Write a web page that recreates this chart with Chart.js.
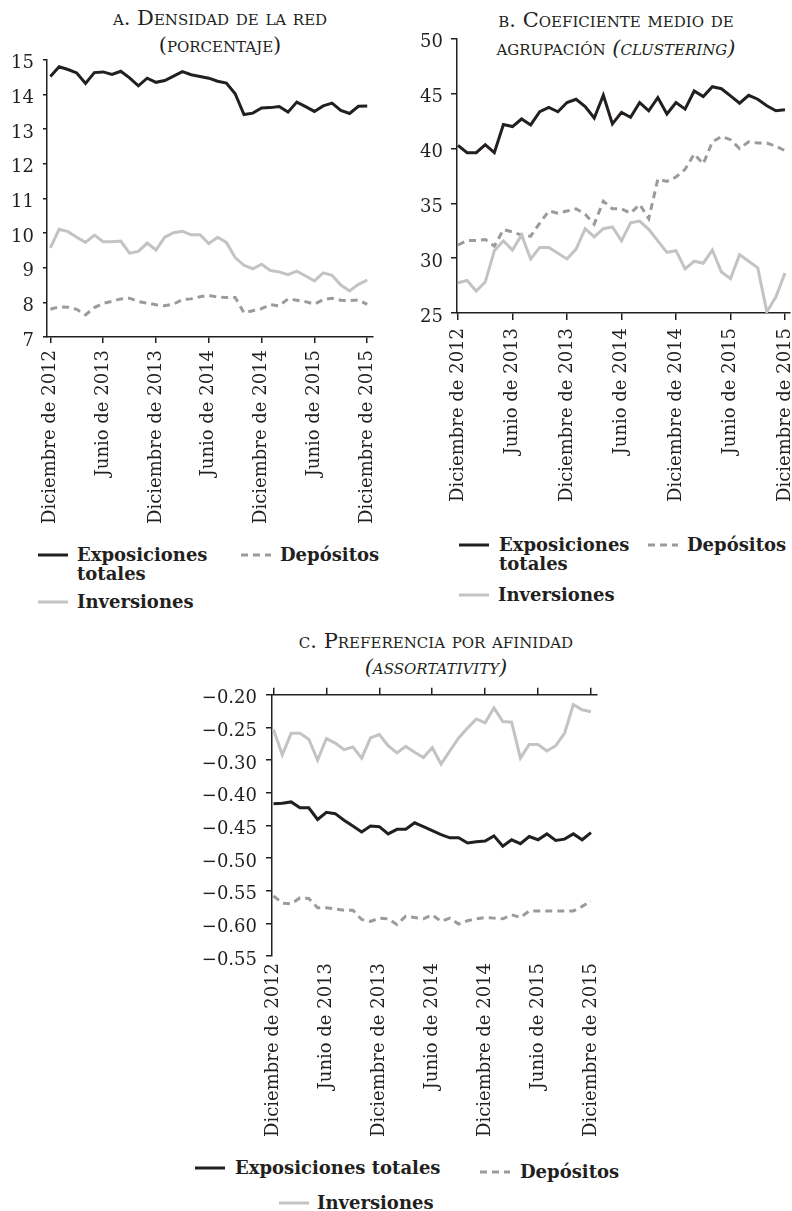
<!DOCTYPE html>
<html lang="es">
<head>
<meta charset="utf-8">
<title>Densidad, agrupación y preferencia por afinidad</title>
<script src="https://cdn.jsdelivr.net/npm/chart.js@4.4.1/dist/chart.umd.min.js"></script>
<style>
  html, body { margin: 0; padding: 0; background: #fff; }
  body {
    width: 792px; height: 1211px; position: relative; overflow: hidden;
    font-family: 'DejaVu Serif', serif; color: #231f20;
  }
  canvas { position: absolute; }
  .title {
    position: absolute; text-align: center; white-space: nowrap;
    font-variant: small-caps; font-size: 21px;
  }
  .title i { font-style: italic; }
  .leg {
    position: absolute; font-weight: bold; font-size: 18px; line-height: 19px; white-space: nowrap;
  }
  .sw { position: absolute; line-height: 0; }
  .sw svg { display: block; }
</style>
</head>
<body>

<div class="title" style="left:60px; width:320px; top:5px; line-height:27px;">a. Densidad de la red<br>(porcentaje)</div>
<div class="title" style="left:456px; width:320px; top:6px; line-height:28px;">b. Coeficiente medio de<br>agrupación <i>(clustering)</i></div>
<div class="title" style="left:276px; width:320px; top:628px; line-height:26px;">c. Preferencia por afinidad<br><i>(assortativity)</i></div>

<canvas id="chartA" width="396" height="500" style="left:0px; top:40px;"></canvas>
<canvas id="chartB" width="420" height="510" style="left:396px; top:20px;"></canvas>
<canvas id="chartC" width="440" height="480" style="left:180px; top:675px;"></canvas>

<script>
// meses: diciembre de 2012 a diciembre de 2015
const months = ['Enero', 'Febrero', 'Marzo', 'Abril', 'Mayo', 'Junio', 'Julio',
  'Agosto', 'Septiembre', 'Octubre', 'Noviembre', 'Diciembre'];
const categories = ['Diciembre de 2012'];
for (let y = 2013; y <= 2015; y++) months.forEach(m => categories.push(m + ' de ' + y));
const tickIdx = [0, 6, 12, 18, 24, 30, 36];

// A. Densidad de la red (porcentaje)
const densidadExposiciones = [14.52, 14.8, 14.72, 14.62, 14.32, 14.63, 14.65, 14.58, 14.67, 14.48,
  14.25, 14.47, 14.35, 14.4, 14.53, 14.66, 14.57, 14.52, 14.47, 14.38, 14.33, 14.02, 13.42, 13.46,
  13.61, 13.62, 13.65, 13.49, 13.78, 13.65, 13.51, 13.67, 13.75, 13.54, 13.45, 13.66, 13.67];
const densidadDepositos = [7.8, 7.87, 7.86, 7.8, 7.64, 7.85, 7.97, 8.03, 8.1, 8.12, 8.02, 7.98,
  7.93, 7.9, 7.95, 8.08, 8.1, 8.16, 8.2, 8.15, 8.14, 8.14, 7.7, 7.76, 7.82, 7.93, 7.9, 8.1, 8.06,
  8.02, 7.95, 8.08, 8.12, 8.06, 8.05, 8.07, 7.94];
const densidadInversiones = [9.57, 10.11, 10.04, 9.88, 9.73, 9.94, 9.75, 9.75, 9.77, 9.42, 9.47,
  9.71, 9.51, 9.88, 10.01, 10.05, 9.95, 9.95, 9.7, 9.88, 9.73, 9.29, 9.07, 8.97, 9.1, 8.92, 8.88,
  8.8, 8.9, 8.76, 8.62, 8.85, 8.78, 8.5, 8.33, 8.52, 8.64];

// B. Coeficiente medio de agrupación
const clusterExposiciones = [40.29, 39.62, 39.62, 40.35, 39.62, 42.18, 42.0, 42.69, 42.15, 43.35,
  43.74, 43.35, 44.19, 44.49, 43.83, 42.78, 44.85, 42.24, 43.29, 42.84, 44.19, 43.44, 44.64, 43.14,
  44.19, 43.59, 45.24, 44.73, 45.63, 45.45, 44.79, 44.13, 44.85, 44.49, 43.89, 43.44, 43.53];
const clusterDepositos = [31.2, 31.6, 31.6, 31.7, 31.1, 32.6, 32.4, 32.1, 32.0, 33.2, 34.3, 34.1,
  34.3, 34.5, 34.0, 33.1, 35.2, 34.5, 34.5, 34.1, 34.9, 33.6, 37.2, 37.0, 37.4, 38.1, 39.5, 38.6,
  40.6, 41.1, 40.8, 40.0, 40.6, 40.5, 40.5, 40.2, 39.8];
const clusterInversiones = [27.76, 27.97, 27.0, 27.82, 30.68, 31.58, 30.74, 32.12, 29.93, 30.98,
  30.98, 30.44, 29.93, 30.83, 32.69, 31.94, 32.69, 32.84, 31.58, 33.23, 33.38, 32.63, 31.58, 30.53,
  30.68, 29.03, 29.72, 29.54, 30.74, 28.73, 28.13, 30.32, 29.72, 29.12, 25.1, 26.47, 28.64];

const assortExposiciones = [-0.417, -0.416, -0.414, -0.423, -0.423, -0.441, -0.430, -0.432,
  -0.442, -0.451, -0.460, -0.451, -0.452, -0.463, -0.456, -0.456, -0.446, -0.452, -0.458, -0.464,
  -0.469, -0.469, -0.477, -0.475, -0.474, -0.466, -0.482, -0.472, -0.478, -0.467, -0.472, -0.463,
  -0.473, -0.471, -0.463, -0.472, -0.461];
const assortDepositos = [-0.558, -0.569, -0.570, -0.561, -0.562, -0.576, -0.576, -0.578, -0.580,
  -0.580, -0.594, -0.597, -0.592, -0.593, -0.602, -0.589, -0.591, -0.593, -0.587, -0.597, -0.592,
  -0.601, -0.596, -0.593, -0.591, -0.592, -0.593, -0.587, -0.591, -0.581, -0.581, -0.581, -0.581,
  -0.581, -0.581, -0.574, -0.566];
const assortInversiones = [-0.253, -0.292, -0.259, -0.259, -0.268, -0.300, -0.267, -0.274,
  -0.284, -0.280, -0.297, -0.266, -0.261, -0.278, -0.289, -0.279, -0.288, -0.296, -0.281, -0.306,
  -0.286, -0.266, -0.251, -0.237, -0.243, -0.220, -0.241, -0.242, -0.297, -0.276, -0.276, -0.286,
  -0.278, -0.259, -0.215, -0.223, -0.226];
// the printed axis skips from -0.30 to -0.40, so the lower block sits one step higher
const yTickPosC = [-0.60, -0.55, -0.50, -0.45, -0.40, -0.35, -0.30, -0.25, -0.20];
const yTickLabelsC = ['\u22120.55', '\u22120.60', '\u22120.55', '\u22120.50', '\u22120.45',
  '\u22120.40', '\u22120.30', '\u22120.25', '\u22120.20'];
const toAxisC = v => (v <= -0.35 ? v + 0.05 : v);

const INK = '#231f20';
const FONT = { family: "'DejaVu Serif', serif", size: 18 };
const style = {
  exp: { borderColor: '#231f20', borderWidth: 3 },
  dep: { borderColor: '#9b9b9b', borderWidth: 3, borderDash: [7, 5] },
  inv: { borderColor: '#c3c3c3', borderWidth: 3 }
};
const pts = arr => arr.map((v, i) => ({ x: i, y: v }));

function ds(label, arr, s) {
  return Object.assign({ label, data: pts(arr), pointRadius: 0, tension: 0, fill: false }, s);
}

function xAxis(o) {
  return {
    type: 'linear', position: o.position || 'bottom', min: o.min, max: o.max,
    afterBuildTicks: s => { s.ticks = tickIdx.map(v => ({ value: v })); },
    afterFit: s => { s.height = o.height; },
    border: { display: o.line !== false, color: INK, width: 1.5 },
    grid: { display: o.tickLength > 0, drawOnChartArea: false, drawTicks: o.tickLength > 0,
      tickLength: o.tickLength, color: INK, lineWidth: 1.5 },
    ticks: { display: o.labels !== false, color: INK, font: FONT, padding: o.padding || 0,
      minRotation: 90, maxRotation: 90, autoSkip: false, callback: v => categories[v] }
  };
}

function yAxis(o) {
  return Object.assign({
    type: 'linear', min: o.min, max: o.max,
    afterFit: s => { s.width = o.width; },
    border: { display: true, color: INK, width: 1.5 },
    grid: { drawOnChartArea: false, drawTicks: true, tickLength: o.tickLength, color: INK, lineWidth: 1.5 },
    ticks: Object.assign({ color: INK, font: FONT, padding: o.padding, labelOffset: 4 }, o.ticks)
  }, o.extra || {});
}

const base = {
  responsive: false, animation: false, events: [],
  plugins: { legend: { display: false }, tooltip: { enabled: false } }
};

new Chart(document.getElementById('chartA'), {
  type: 'line',
  data: { datasets: [
    ds('Inversiones', densidadInversiones, style.inv),
    ds('Depósitos', densidadDepositos, style.dep),
    ds('Exposiciones totales', densidadExposiciones, style.exp)
  ] },
  options: Object.assign({}, base, {
    layout: { padding: { top: 17, right: 11, left: 0, bottom: 0 } },
    scales: {
      x: xAxis({ min: -0.38, max: 36.6, height: 203, tickLength: 6, padding: 7 }),
      y: yAxis({ min: 7, max: 15, width: 47, tickLength: 4, padding: 9, ticks: { stepSize: 1 } })
    }
  })
});

new Chart(document.getElementById('chartB'), {
  type: 'line',
  data: { datasets: [
    ds('Inversiones', clusterInversiones, style.inv),
    ds('Depósitos', clusterDepositos, style.dep),
    ds('Exposiciones totales', clusterExposiciones, style.exp)
  ] },
  options: Object.assign({}, base, {
    layout: { padding: { top: 16, right: 26, left: 0, bottom: 0 } },
    scales: {
      x: xAxis({ min: -0.11, max: 36.55, height: 217, tickLength: 7, padding: 8 }),
      y: yAxis({ min: 25, max: 50, width: 61, tickLength: 6, padding: 8, ticks: { stepSize: 5 } })
    }
  })
});

new Chart(document.getElementById('chartC'), {
  type: 'line',
  data: { datasets: [
    ds('Inversiones', assortInversiones.map(toAxisC), style.inv),
    ds('Depósitos', assortDepositos.map(toAxisC), style.dep),
    ds('Exposiciones totales', assortExposiciones.map(toAxisC), style.exp)
  ] },
  options: Object.assign({}, base, {
    layout: { padding: { top: 0, right: 23, left: 0, bottom: 0 } },
    scales: {
      xTop: xAxis({ position: 'top', min: -0.17, max: 36.68, height: 13, tickLength: 7, labels: false }),
      x: xAxis({ min: -0.17, max: 36.68, height: 199, tickLength: 0, padding: 7, line: false }),
      y: yAxis({ min: -0.60, max: -0.20, width: 92, tickLength: 6, padding: 9,
        extra: { afterBuildTicks: s => { s.ticks = yTickPosC.map(v => ({ value: v })); } },
        ticks: { callback: (v, i) => yTickLabelsC[i] } })
    }
  })
});

// leyendas
function swatch(kind) {
  const s = style[kind];
  const dash = s.borderDash ? ` stroke-dasharray="${s.borderDash.join(' ')}"` : '';
  return `<svg width="30" height="6"><line x1="0" y1="3" x2="30" y2="3" stroke="${s.borderColor}" stroke-width="3"${dash}/></svg>`;
}
function legendItem(kind, swX, textX, y, html) {
  const sw = document.createElement('div');
  sw.className = 'sw';
  sw.style.left = swX + 'px';
  sw.style.top = (y - 3) + 'px';
  sw.innerHTML = swatch(kind);
  document.body.appendChild(sw);
  const t = document.createElement('div');
  t.className = 'leg';
  t.style.left = textX + 'px';
  t.style.top = (y - 10) + 'px';
  t.innerHTML = html;
  document.body.appendChild(t);
}
legendItem('exp', 38, 77, 555, 'Exposiciones<br>totales');
legendItem('dep', 241, 280, 555, 'Depósitos');
legendItem('inv', 38, 77, 602, 'Inversiones');

legendItem('exp', 459, 499, 545, 'Exposiciones<br>totales');
legendItem('dep', 648, 687, 545, 'Depósitos');
legendItem('inv', 459, 498, 595, 'Inversiones');

legendItem('exp', 195, 235, 1168, 'Exposiciones totales');
legendItem('dep', 480, 520, 1172, 'Depósitos');
legendItem('inv', 279, 317, 1203, 'Inversiones');
</script>
</body>
</html>
